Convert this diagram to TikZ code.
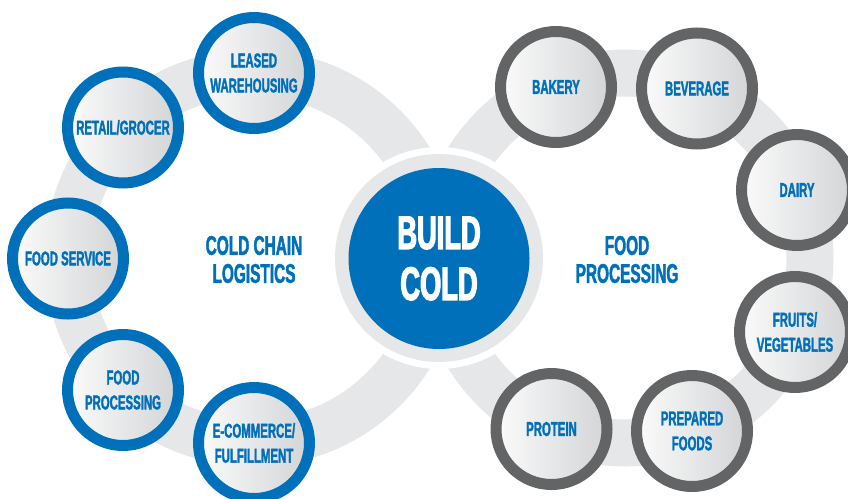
\documentclass[tikz,border=0pt]{standalone}
\usepackage{fontspec}
\setmainfont[FakeStretch=0.57,FakeBold=1.6]{Liberation Sans Bold}
\newfontfamily\hubfont[FakeStretch=0.58,FakeBold=2.6]{Liberation Sans Bold}
\definecolor{bcblue}{HTML}{0070BA}
\definecolor{bcgray}{HTML}{636466}
\definecolor{bcband}{HTML}{E6E7E8}
\definecolor{bclight}{HTML}{FBFBFB}
\definecolor{bcdark}{HTML}{D2D4D6}
\tikzset{
  x=1pt,y=-1pt,
  band/.style={draw=bcband,line width=47pt},
  disc/.style={circle,outer sep=0pt,inner sep=0pt,minimum size=111pt,line width=11pt,
    left color=bclight,right color=bcdark,align=center,text=bcblue,
    font=\fontsize{20}{25}\selectfont},
  bluedisc/.style={disc,draw=bcblue},
  graydisc/.style={disc,draw=bcgray},
  heading/.style={align=center,text=bcblue,inner sep=0pt,font=\fontsize{27}{28}\selectfont},
}
\begin{document}
\begin{tikzpicture}
\useasboundingbox (0,0) rectangle (848,498);
\clip (0,0) rectangle (848,498);
% rings
\node[circle,band,minimum size=370pt,inner sep=0pt,outer sep=0pt] (leftring) at (253,258) {};
\node[circle,band,minimum size=370pt,inner sep=0pt,outer sep=0pt] (rightring) at (625,258) {};
% hub
\node[circle,fill=white,minimum size=222pt,inner sep=0pt,outer sep=0pt] (hubgap) at (439,258) {};
\node[circle,fill=bcband,minimum size=208pt,inner sep=0pt,outer sep=0pt] (hubring) at (439,258) {};
\node[circle,fill=bcblue,minimum size=181pt,inner sep=0pt,outer sep=0pt,text=white,align=center,
  font=\hubfont\fontsize{47}{51}\selectfont] (hub) at (439,258.5) {BUILD\\COLD};
% left discs
\node[bluedisc] (leased) at (254,73) {LEASED\\WAREHOUSING};
\node[bluedisc] (retail) at (123,127.5) {RETAIL/GROCER};
\node[bluedisc] (service) at (68,258.5) {FOOD SERVICE};
\node[bluedisc] (foodproc) at (123,390) {FOOD\\PROCESSING};
\node[bluedisc] (ecom) at (254,443) {E-COMMERCE/\\FULFILLMENT};
% right discs
\node[graydisc] (bakery) at (556,87) {BAKERY};
\node[graydisc] (beverage) at (697,88.5) {BEVERAGE};
\node[graydisc] (dairy) at (797,190) {DAIRY};
\node[graydisc] (fruits) at (795,332) {FRUITS/\\VEGETABLES};
\node[graydisc] (prepared) at (692,431) {PREPARED\\FOODS};
\node[graydisc] (protein) at (551.5,429) {PROTEIN};
% headings
\node[heading] (coldchain) at (254,259.5) {COLD CHAIN\\LOGISTICS};
\node[heading] (foodhead) at (627,259.5) {FOOD\\PROCESSING};
\end{tikzpicture}
\end{document}
